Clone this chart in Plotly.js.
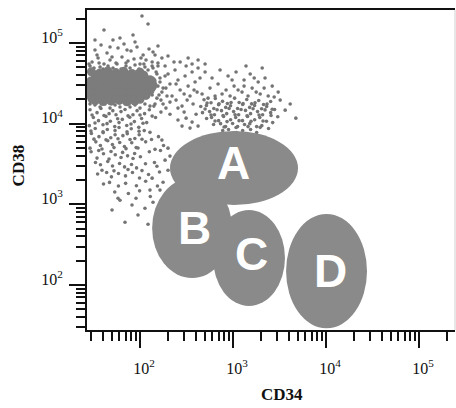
<!DOCTYPE html>
<html>
<head>
<meta charset="utf-8">
<script src="https://cdn.plot.ly/plotly-3.0.1.min.js"></script>
<style>
  html, body { margin: 0; padding: 0; background: #fff; }
  #chart { width: 456px; height: 408px; }
</style>
</head>
<body>
<div id="chart"></div>
<script>
// CD34-dim / CD38-bright core population (solid blob)
const coreCD34 = [
  30, 37, 45, 55, 67, 82, 100,
  33, 40, 49, 60, 73, 88, 108, 128,
  29.5, 36, 44, 54, 66, 80, 98, 119, 138,
  32, 39, 48, 58, 71, 86, 105, 128,
  29.5, 36, 44, 54, 66, 80, 98, 116,
  33, 40, 49, 60, 73, 88,
  33.7, 41, 50, 60.9, 74.3, 90.6, 110,
  29.7, 36.3, 44.2, 53.9, 65.6, 80, 97.6, 119, 135,
  29, 35.4, 43.1, 52.5, 64, 78.1, 95.2, 116, 135,
  29, 35.4, 43.1, 52.5, 64, 78.1, 95.2, 116,
  30.5, 37.2, 45.3, 55.2, 67.3, 82, 100
];
const coreCD38 = [
  44000, 42500, 45000, 43000, 44500, 42000, 43500,
  37000, 36000, 37500, 36500, 35500, 37000, 36000, 35000,
  31000, 30500, 31500, 30000, 31000, 31500, 30500, 31000, 30000,
  26000, 26500, 25500, 26200, 26800, 25800, 26300, 25500,
  22000, 21500, 22500, 22000, 21800, 22200, 21600, 22400,
  19200, 18800, 19000, 19400, 18700, 19100,
  40100, 40500, 39800, 40300, 39900, 40200, 39700,
  33800, 34100, 33500, 33900, 34200, 33600, 33900, 33400, 33700,
  28400, 28700, 28200, 28500, 28800, 28300, 28600, 28100, 28400,
  24000, 24300, 23800, 24100, 24400, 23900, 24200, 23700,
  20200, 20500, 20000, 20300, 20100, 20400, 20000
];

// fuzzy rim of the core
const rimCD34 = [
  28.3, 32, 36.3, 40, 45.3, 51.2, 56.6, 62.5, 70.7, 78.1, 88.4, 97.6, 110, 122, 138,
  152, 164, 177, 160, 168, 145, 128, 113, 100, 88.4, 78.1, 69, 60.9, 53.9, 47.6,
  42, 37.2, 32.8, 29, 186, 195, 156, 135
];
const rimCD38 = [
  54900, 48900, 56500, 47600, 51800, 48900, 54900, 47600, 56500, 48900, 53300, 47600, 54900, 46200, 48900,
  41200, 32800, 27600, 22700, 19600, 17500, 16500, 17500, 15600, 17000, 16100, 17500, 16100, 17000, 15600,
  17500, 16100, 17000, 17500, 38900, 22000, 51800, 58100
];

// events scattered around the core
const haloCD34 = [
  30.5, 35.4, 41, 47.6, 55.2, 64, 74.3, 86.2, 100, 116, 135, 156,
  32.8, 44.2, 58, 80, 108, 145, 38.1, 67.3, 92.8, 125, 172, 51.2,
  29, 37.2, 70.7, 113, 186, 105, 122, 84.1,
  149, 164, 156, 172, 152, 177, 200, 210, 221, 190,
  238, 256, 270, 244, 283, 305, 329, 345, 313, 363,
  391, 411, 372, 421, 442, 141, 168, 210, 298, 135,
  190, 232, 329, 421, 501,
  34.5, 50, 72.5, 102.5, 138, 200, 270, 363, 47.6, 88.4,
  156, 60.9, 244, 298, 381, 256, 210, 321, 41, 32.8
];
const haloCD38 = [
  58100, 65100, 54900, 61500, 56500, 67000, 59800, 63300, 54900, 61500, 51800, 56500,
  81900, 75100, 86700, 79600, 70900, 70900, 94500, 97200, 89200, 84300, 65100, 108900,
  51800, 50400, 51800, 50400, 51800, 216000, 172000, 125700,
  43700, 36800, 29200, 24600, 20700, 17500, 41200, 31000, 22000, 15600,
  46200, 34700, 26100, 19600, 16500, 38900, 29200, 22000, 51800, 43700,
  32800, 24600, 17500, 48900, 36800, 16500, 13900, 13100, 13900, 22700,
  27600, 58100, 65100, 61500, 54900,
  70900, 67000, 81900, 65100, 77300, 69000, 58100, 54900, 89200, 102900,
  91800, 115300, 31000, 23300, 26100, 15600, 18500, 19600, 144800, 108900
];

// CD34+ / CD38+ cluster
const clusterCD34 = [
  501, 595, 726, 885, 1079, 1315, 1530, 1865, 2210, 2640, 3060,
  566, 691, 842, 1027, 1250, 1605, 1960, 2390, 465, 641, 930, 3215, 3640, 1380, 2060,
  488, 580, 645, 772, 870, 1040, 1165, 1405, 1585, 1890, 2130, 2540,
  450, 518, 622, 700, 835, 940, 1120, 1270, 1510, 1705, 2030, 2300, 2800,
  470, 560, 632, 752, 855, 1015, 1150, 1362, 1545, 1835, 2080, 2540, 3030,
  520, 588, 700, 792, 942, 1068, 1265, 1435, 1710, 1940, 2290, 2670,
  618, 735, 832, 990, 1120, 1330, 1515, 1795, 2040, 2410,
  775, 895, 1090, 1270, 1545, 1795, 1180, 985,
  313, 363, 401, 345, 283, 421, 256,
  4120, 4740,
  526, 708, 953, 1283, 1726, 2322,
  501, 674, 907, 1221, 1643, 2210, 2640,
  581, 782, 1053, 1416, 1905, 2564,
  641, 863, 1162, 1563, 2103,
  801, 1079, 1450, 1960,
  763, 1134, 1450, 1775, 2160, 2770, 539, 1315, 977, 1690
];
const clusterCD38 = [
  43700, 36800, 46200, 38900, 43700, 34700, 41200, 32800, 36800, 29200, 24600,
  27600, 31000, 26100, 29200, 24600, 27600, 23300, 22000, 23300, 22000, 22000, 19600, 14700, 51800, 48900,
  19800, 18200, 20500, 18900, 17800, 20700, 18300, 19900, 17600, 19400, 17300, 18800,
  16300, 16800, 15400, 17200, 15900, 16700, 15400, 17300, 15900, 16800, 15300, 16300, 15000,
  13700, 14100, 12900, 14500, 13300, 14100, 12900, 14600, 13300, 14100, 12900, 13700, 12200,
  11600, 11900, 10900, 12300, 11200, 11900, 10900, 12300, 11200, 11900, 10700, 10300,
  9750, 10000, 9200, 10050, 9200, 9750, 10000, 9200, 9450, 8700,
  8200, 8450, 7750, 8200, 8450, 7750, 6950, 7300,
  11700, 10450, 13100, 8810, 9330, 9330, 11100,
  17500, 11700,
  18000, 17600, 18300, 17700, 18200, 17500,
  15200, 14900, 15400, 15000, 15300, 14800, 15100,
  12800, 12600, 12900, 12500, 12800, 12600,
  10800, 10600, 10900, 10700, 10800,
  9100, 8950, 9200, 9000,
  23300, 26100, 22000, 24600, 27600, 21400, 20700, 29200, 34700, 36800
];

// CD38 descending tail of CD34-dim events
const tailCD34 = [
  29, 34.5, 38, 46.5, 51, 62.5, 69, 84, 93, 112, 126,
  31.5, 35.8, 43, 48, 57.5, 64.5, 77.5, 87, 104, 118, 147,
  28.5, 33, 40, 44.5, 53.5, 59.5, 72, 80.5, 97, 111,
  30, 36.2, 40.2, 48.5, 54, 65.5, 73, 88, 98,
  33.5, 37.5, 45, 50.5, 60.5, 68, 81.5, 91, 115, 133, 158,
  29.8, 36, 40.5, 48.8, 54.2, 65, 73.5, 87.5, 101, 126, 166, 179,
  33.2, 37.6, 45, 50.6, 60.3, 68.2, 81, 91.8, 114.5, 143,
  35, 43.8, 49.3, 58.7, 69.8, 83, 98.8, 123.5, 162,
  40.5, 47, 58.6, 70, 91.5, 115, 154,
  53.5, 75, 99, 129,
  60.9, 82, 50, 113, 95.2, 69, 122, 58, 90.6, 138, 164, 200, 186,
  172, 200, 210, 152, 135, 177, 128,
  30.5, 41, 55.2, 74.3, 100, 135,
  32.8, 44.2, 59.5, 80, 107.7,
  29.7, 40, 53.9, 72.5, 97.6, 128,
  32, 43.1, 58, 78.1, 105,
  29, 39, 52.5, 70.7, 95.2, 145,
  34.5, 46.4, 62.5, 84.1,
  39, 52.5, 74.3, 105
];
const tailCD38 = [
  14900, 13700, 15400, 13300, 14500, 14100, 15000, 12900, 14500, 13300, 14900,
  11900, 10900, 12300, 10700, 11500, 11300, 12000, 10600, 11600, 10300, 11900,
  9450, 8700, 9700, 8450, 9200, 8950, 9500, 8650, 9000, 8200,
  7550, 6900, 7750, 6700, 7300, 7100, 7500, 6550, 7300,
  5950, 5350, 6150, 5500, 5850, 5200, 5800, 5050, 5950, 6350, 6900,
  4480, 4650, 4230, 4520, 4120, 4400, 3990, 4260, 3880, 4490, 4650, 5350,
  3300, 3090, 3400, 2990, 3210, 2910, 3120, 2830, 3180, 3300,
  2380, 2480, 2190, 2410, 2250, 2480, 2120, 2340, 2520,
  1790, 1870, 1690, 1820, 1700, 1930, 1690,
  1420, 1360, 1470, 1250,
  1125, 980, 850, 893, 738, 600, 566, 1190, 1190, 1060, 1500, 2650, 3530,
  6250, 4970, 3960, 2970, 2110, 1880, 1500,
  12800, 12600, 12900, 12500, 12800, 12400,
  10200, 10000, 10300, 9900, 10100,
  8100, 7900, 8200, 7950, 8050, 7800,
  6430, 6300, 6500, 6350, 6400,
  4970, 4850, 5050, 4900, 5000, 4800,
  3740, 3650, 3800, 3700,
  2650, 2600, 2700, 2620
];

// sort gates A-D: bounding boxes on CD34 / CD38
const gateNames = ['A', 'B', 'C', 'D'];
const gateCD34Lo = [210, 135, 610, 3720];
const gateCD34Hi = [5000, 975, 3620, 27600];
const gateCD38Lo = [980, 122, 55, 29];
const gateCD38Hi = [8100, 2120, 850, 760];
const gateLabelCD34 = [1000, 381, 1563, 11040];
const gateLabelCD38 = [3250, 509, 242, 149];

// axis ticks
const tickVals = [100, 1000, 10000, 100000];
const tickText = ['10<sup>2</sup>', '10<sup>3</sup>', '10<sup>4</sup>', '10<sup>5</sup>'];

const minorTicks = [];
for (let k = 1; k <= 5; k++) {
  for (let m = 2; m <= 9; m++) minorTicks.push(m * Math.pow(10, k));
}

const ink = '#111111';
const eventColor = '#747474';
const eventMarker = { size: 3.6, color: eventColor };

const traces = [
  { x: haloCD34, y: haloCD38, type: 'scatter', mode: 'markers', marker: eventMarker, hoverinfo: 'skip' },
  { x: tailCD34, y: tailCD38, type: 'scatter', mode: 'markers', marker: eventMarker, hoverinfo: 'skip' },
  { x: clusterCD34, y: clusterCD38, type: 'scatter', mode: 'markers', marker: eventMarker, hoverinfo: 'skip' },
  { x: rimCD34, y: rimCD38, type: 'scatter', mode: 'markers', marker: eventMarker, hoverinfo: 'skip' },
  { x: coreCD34, y: coreCD38, type: 'scatter', mode: 'markers',
    marker: { size: 9, color: '#7c7c7c' }, hoverinfo: 'skip' }
];

const shapes = gateNames.map((g, i) => ({
  type: 'circle', xref: 'x', yref: 'y',
  x0: gateCD34Lo[i], x1: gateCD34Hi[i],
  y0: gateCD38Lo[i], y1: gateCD38Hi[i],
  fillcolor: '#8a8a8a', line: { width: 0 }, layer: 'above'
}));
// faint right-hand frame edge
shapes.push({ type: 'line', xref: 'paper', yref: 'paper', x0: 1, x1: 1, y0: 0, y1: 1,
  line: { color: '#cfcfcf', width: 1 } });

const annotations = gateNames.map((g, i) => ({
  text: g, xref: 'x', yref: 'y',
  x: Math.log10(gateLabelCD34[i]), y: Math.log10(gateLabelCD38[i]),
  showarrow: false, xanchor: 'center', yanchor: 'middle',
  font: { family: 'Liberation Sans, Arial, sans-serif', size: 46, color: '#ffffff', weight: 'bold' }
}));
annotations.push(
  { text: '<b>CD34</b>', xref: 'paper', yref: 'paper', x: 0.53, y: -0.2, showarrow: false,
    xanchor: 'center', yanchor: 'middle',
    font: { family: 'Liberation Serif, Times New Roman, serif', size: 17, color: ink } },
  { text: '<b>CD38</b>', xref: 'paper', yref: 'paper', x: -0.187, y: 0.515, showarrow: false,
    textangle: -90, xanchor: 'center', yanchor: 'middle',
    font: { family: 'Liberation Serif, Times New Roman, serif', size: 17, color: ink } }
);

const axisBase = {
  type: 'log', tickmode: 'array', tickvals: tickVals, ticktext: tickText,
  ticks: 'outside', ticklen: 16, tickwidth: 2, tickcolor: ink,
  showline: true, linewidth: 2, linecolor: ink,
  showgrid: false, zeroline: false,
  tickfont: { family: 'Liberation Serif, Times New Roman, serif', size: 16, color: ink },
  minor: { tickmode: 'array', tickvals: minorTicks, ticks: 'outside', ticklen: 9,
           tickwidth: 2, tickcolor: ink, showgrid: false }
};

const layout = {
  width: 456, height: 408,
  margin: { l: 87, r: 1, t: 10, b: 78 },
  paper_bgcolor: '#ffffff', plot_bgcolor: '#ffffff',
  showlegend: false,
  xaxis: Object.assign({}, axisBase, { range: [1.430, 5.387], mirror: true,
    ticklabelstandoff: 7, ticklabelshift: 4 }),
  yaxis: Object.assign({}, axisBase, { range: [1.442, 5.409], mirror: false,
    ticklabelstandoff: 3, ticklabelshift: -6 }),
  shapes: shapes,
  annotations: annotations
};

Plotly.newPlot('chart', traces, layout, { staticPlot: true, displayModeBar: false });
</script>
</body>
</html>
